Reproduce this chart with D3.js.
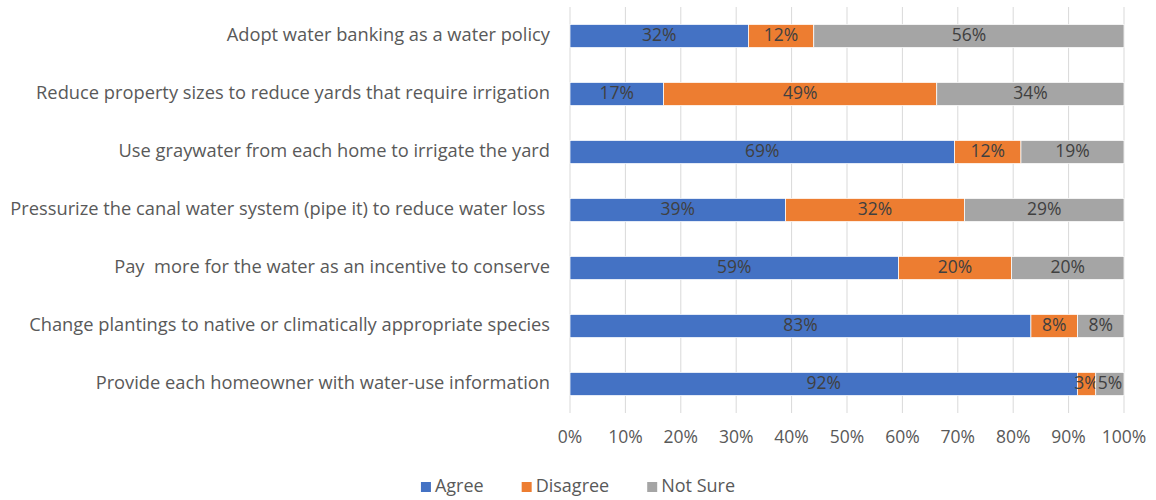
<!DOCTYPE html>
<html>
<head>
<meta charset="utf-8">
<script src="https://cdn.jsdelivr.net/npm/d3@7"></script>
<style>
  body{margin:0;background:#fff;}
  svg text{font-family:"Open Sans","Liberation Sans",sans-serif;}
</style>
</head>
<body>
<main></main>
<script>
const categories=[
  "Adopt water banking as a water policy",
  "Reduce property sizes to reduce yards that require irrigation",
  "Use graywater from each home to irrigate the yard",
  "Pressurize the canal water system (pipe it) to reduce water loss ",
  "Pay  more for the water as an incentive to conserve",
  "Change plantings to native or climatically appropriate species",
  "Provide each homeowner with water-use information"
];
const seriesNames=["Agree","Disagree","Not Sure"];
const agree=[32.2,16.9,69.4,38.9,59.3,83.2,91.6];
const disagree=[11.8,49.3,12.0,32.3,20.4,8.4,3.3];
const notSure=[56.0,33.8,18.6,28.8,20.3,8.4,5.1];
const ticks=[0,10,20,30,40,50,60,70,80,90,100];
const colors=["#4472C4","#ED7D31","#A5A5A5"];

const w=1156,h=500;
const plotLeft=570,plotRight=1124,plotTop=7,plotBottom=413;
const fs="18.3px";

const rows=categories.map((c,i)=>({cat:c,"Agree":agree[i],"Disagree":disagree[i],"Not Sure":notSure[i]}));
const stacked=d3.stack().keys(seriesNames)(rows);

const x=d3.scaleLinear().domain([0,100]).range([plotLeft,plotRight]);
const y=d3.scaleBand().domain(categories).range([plotTop,plotBottom]).paddingInner(0.6).paddingOuter(0.3);

const svg=d3.select("main").append("svg")
  .attr("width",w)
  .attr("height",h);

// gridlines
svg.append("g")
  .selectAll("line")
  .data(ticks)
  .enter()
  .append("line")
  .attr("x1",d=>x(d)).attr("x2",d=>x(d))
  .attr("y1",plotTop).attr("y2",plotBottom)
  .attr("stroke","#d9d9d9")
  .attr("stroke-width",1);

// x tick labels
svg.append("g")
  .selectAll("text")
  .data(ticks)
  .enter()
  .append("text")
  .attr("x",d=>x(d))
  .attr("y",438)
  .attr("text-anchor","middle")
  .attr("dominant-baseline","middle")
  .attr("fill","#595959")
  .style("font-size","17.5px")
  .text(d=>d+"%");

// category labels
svg.append("g")
  .selectAll("text")
  .data(categories)
  .enter()
  .append("text")
  .attr("x",550)
  .attr("y",d=>y(d)+y.bandwidth()/2)
  .attr("text-anchor","end")
  .attr("dominant-baseline","middle")
  .attr("fill","#595959")
  .style("font-size",fs)
  .style("white-space","pre")
  .text(d=>d);

// bars
const layers=svg.append("g")
  .selectAll("g")
  .data(stacked)
  .enter()
  .append("g")
  .attr("fill",(d,i)=>colors[i]);

layers.selectAll("rect")
  .data(d=>d)
  .enter()
  .append("rect")
  .attr("x",d=>x(d[0]))
  .attr("y",d=>y(d.data.cat))
  .attr("width",d=>x(d[1])-x(d[0]))
  .attr("height",y.bandwidth())
  .attr("stroke","#ffffff")
  .attr("stroke-width",0.75);

layers.selectAll("text")
  .data(d=>d)
  .enter()
  .append("text")
  .attr("x",d=>(x(d[0])+x(d[1]))/2)
  .attr("y",d=>y(d.data.cat)+y.bandwidth()/2)
  .attr("text-anchor","middle")
  .attr("dominant-baseline","middle")
  .attr("fill","#404040")
  .style("font-size","17.5px")
  .text(d=>Math.round(d[1]-d[0])+"%");

// legend, laid out from measured text widths and centred
const legend=svg.append("g").attr("id","legend");
let cursor=0;
seriesNames.forEach((s,i)=>{
  legend.append("rect")
    .attr("x",cursor)
    .attr("y",-5)
    .attr("width",10)
    .attr("height",10)
    .attr("fill",colors[i]);
  const t=legend.append("text")
    .attr("x",cursor+14)
    .attr("y",0)
    .attr("dominant-baseline","middle")
    .attr("fill","#595959")
    .style("font-size","18px")
    .text(s);
  cursor+=14+t.node().getComputedTextLength()+38;
});
const legendW=cursor-38;
legend.attr("transform","translate("+(578-legendW/2)+",487)");
</script>
</body>
</html>
